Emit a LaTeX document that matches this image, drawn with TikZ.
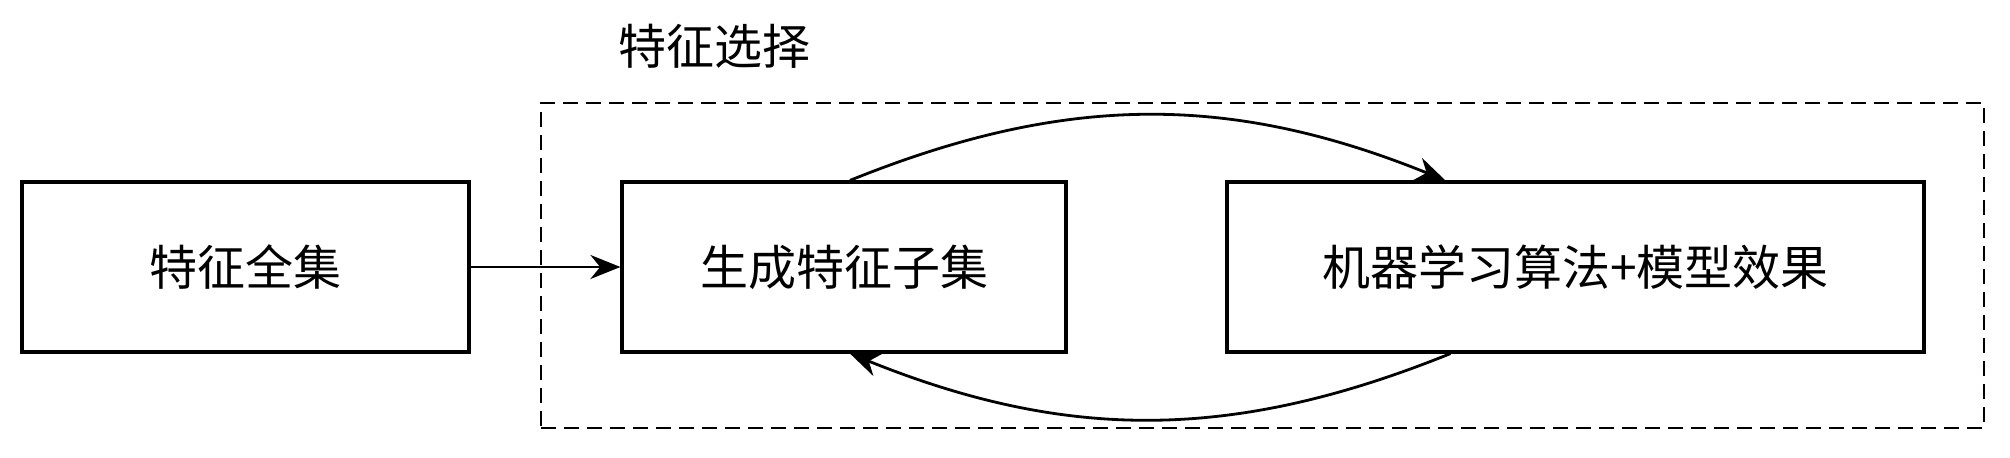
\documentclass[tikz,border=0pt]{standalone}
\usepackage{fontspec}
\setmainfont{Noto Sans CJK SC}
\usetikzlibrary{arrows.meta}
\begin{document}
\begin{tikzpicture}[x=0.5pt,y=-0.5pt,
  box/.style={draw, line width=1.6pt, minimum height=85pt, inner sep=0pt, font=\fontsize{24}{28}\selectfont},
  conn/.style={line width=1.4pt, -{Stealth[length=15pt,width=12pt]}},
  selbox/.style={draw, line width=1.2pt, dash pattern=on 7.5pt off 4pt, inner sep=0pt, minimum width=721.5pt, minimum height=162.5pt}]
\useasboundingbox (0,0) rectangle (2010,458);
\node[selbox] (sel) at (1262.5,265.5) {};
\node[font=\fontsize{24}{28}\selectfont] (title) at (714,46) {特征选择};
\node[box, minimum width=223.5pt] (b1) at (245.5,267) {特征全集};
\node[box, minimum width=222pt] (b2) at (844,267) {生成特征子集};
\node[box, minimum width=348.5pt] (b3) at (1575.5,267) {机器学习算法+模型效果};
\coordinate (t1) at ([xshift=3pt]b2.north);
\coordinate (t2) at ([xshift=110pt]b3.north west);
\coordinate (u1) at ([xshift=112.5pt]b3.south west);
\coordinate (u2) at ([xshift=3pt]b2.south);
\draw[conn] (b1.east) -- (b2.west);
\draw[conn] (t1) to[out=22,in=158] (t2);
\draw[conn] (u1) to[out=-158,in=-22] (u2);
\end{tikzpicture}
\end{document}
